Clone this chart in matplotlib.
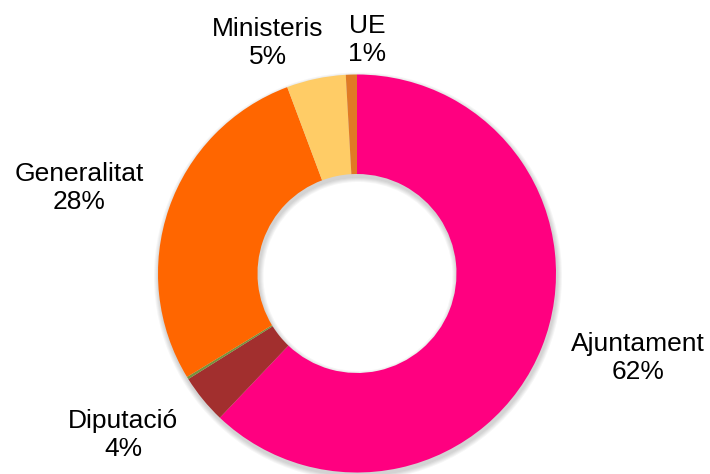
import matplotlib
matplotlib.use("Agg")
import matplotlib.pyplot as plt

plt.rcParams['font.family'] = ['Liberation Sans', 'DejaVu Sans']

# shares, clockwise from 12 o'clock
labels = ['Ajuntament', 'Diputació', '', 'Generalitat', 'Ministeris', 'UE']
values = [62.1, 4.0, 0.2, 28.0, 4.8, 0.9]
pct_text = ['62%', '4%', '', '28%', '5%', '1%']
colors = ['#FF0080', '#A22F2E', '#77933C', '#FF6600', '#FFCC66', '#E07A25']

# label anchor points (figure pixels, origin top-left)
label_pos = [(638, 358), (123, 435), None, (79, 188), (268, 43), (367, 40)]

W, H = 710, 474
fig = plt.figure(figsize=(W / 100, H / 100), dpi=100)
ax = fig.add_axes([0, 0, 1, 1])

cx, cy, R = 357, H - 273.5, 199
hole = 0.5

# soft drop shadow, a few faint stacked rings shifted down
for k in range(5):
    ax.pie(values, radius=R + 1 + k, center=(cx + 1, cy - 3),
           startangle=90, counterclock=False, colors=['#000000'] * len(values),
           wedgeprops=dict(width=R * hole + 2 + 2 * k, linewidth=0, alpha=0.035),
           frame=True)

ax.pie(values, radius=R, center=(cx, cy), startangle=90, counterclock=False,
       colors=colors, wedgeprops=dict(width=R * hole, linewidth=0), frame=True)
ax.set_xlim(0, W)
ax.set_ylim(0, H)
ax.set_aspect('equal')
ax.axis('off')

for lab, pct, pos in zip(labels, pct_text, label_pos):
    if pos is None:
        continue
    ax.text(pos[0], H - pos[1], lab + '\n' + pct, ha='center', va='center',
            fontsize=19, color='#000000', linespacing=1.25)

fig.savefig('out.png', dpi=100)
